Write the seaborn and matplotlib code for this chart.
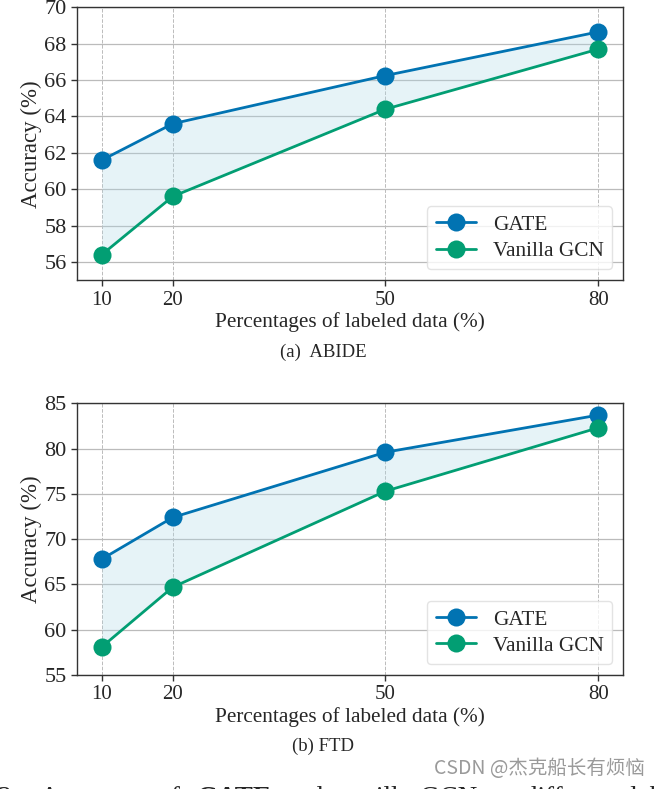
import numpy as np
import pandas as pd
import matplotlib
matplotlib.use("Agg")
import matplotlib.pyplot as plt
import seaborn as sns

# data
PCT = [10, 20, 50, 80]
ABIDE_GATE = [61.6, 63.6, 66.25, 68.65]
ABIDE_GCN = [56.4, 59.6, 64.4, 67.7]
FTD_GATE = [67.8, 72.4, 79.6, 83.7]
FTD_GCN = [58.1, 64.7, 75.3, 82.3]
MODELS = ["GATE", "Vanilla GCN"]
COLORS = ["#0173b2", "#029e73"]

sns.set_theme(style="white")
plt.rcParams["font.family"] = ["Liberation Serif", "DejaVu Serif"]

fig = plt.figure(figsize=(6.6, 7.89), dpi=100)
ax_a = fig.add_axes([0.1167, 0.645, 0.8273, 0.3457])
ax_b = fig.add_axes([0.1167, 0.1445, 0.8273, 0.3443])


def panel(ax, gate, gcn, ylim, yticks):
    df = pd.DataFrame({
        "pct": PCT * 2,
        "acc": gate + gcn,
        "model": [MODELS[0]] * 4 + [MODELS[1]] * 4,
    })
    ax.fill_between(PCT, gate, gcn, color="lightblue", alpha=0.3, lw=0, zorder=1)
    sns.lineplot(data=df, x="pct", y="acc", hue="model", palette=COLORS,
                 marker="o", markersize=13, markeredgewidth=0, linewidth=2,
                 ax=ax, zorder=3)
    ax.set_ylim(*ylim)
    ax.set_yticks(yticks)
    ax.set_xticks(PCT)
    ax.tick_params(length=4, width=1, color="#333333", bottom=True, left=True)
    ax.tick_params(axis="x", labelsize=15)
    ax.tick_params(axis="y", labelsize=16)
    ax.grid(axis="y", color="#bbbbbb", lw=0.9)
    for x in PCT:
        ax.axvline(x, color="#bbbbbb", ls="--", lw=0.7, zorder=0)
    ax.set_axisbelow(True)
    for s in ax.spines.values():
        s.set_color("#333333")
        s.set_linewidth(1)
    ax.set_xlabel("Percentages of labeled data (%)", fontsize=15.3, labelpad=2)
    ax.set_ylabel("Accuracy (%)", fontsize=16.5, labelpad=2)
    leg = ax.legend(loc="lower right", fontsize=15.3, frameon=True,
                    borderpad=0.4, handlelength=1.9, labelspacing=0.3)
    leg.get_frame().set_edgecolor("#dddddd")
    for h in leg.legend_handles:
        h.set_markersize(13)


panel(ax_a, ABIDE_GATE, ABIDE_GCN, (55, 70), np.arange(56, 71, 2))
panel(ax_b, FTD_GATE, FTD_GCN, (55, 85), np.arange(55, 86, 5))

fig.text(0.49, (789 - 352) / 789, "(a)  ABIDE", ha="center", va="center", fontsize=13.5)
fig.text(0.49, (789 - 746) / 789, "(b) FTD", ha="center", va="center", fontsize=13.5)

# cut-off figure caption below the panels
base_y = (789 - 805) / 789
fig.text(-0.004, base_y, "3.", fontsize=19.5, va="baseline")
fig.text(40 / 660, base_y, "Accuracy  of", fontsize=19.5, va="baseline")
fig.text(197 / 660, base_y, "GATE", fontsize=19.5, va="baseline", fontweight="bold")
fig.text(284 / 660, base_y, "and  vanilla", fontsize=19.5, va="baseline")
fig.text(420 / 660, base_y, "GCN  at  different  labeled", fontsize=19.5, va="baseline")

fig.text(645 / 660, (789 - 768) / 789, "CSDN @杰克船长有烦恼", ha="right", va="center",
         fontsize=14, color="#9a9a9a",
         family=["Noto Sans CJK SC", "DejaVu Sans"])

fig.savefig("out.png", dpi=100)
